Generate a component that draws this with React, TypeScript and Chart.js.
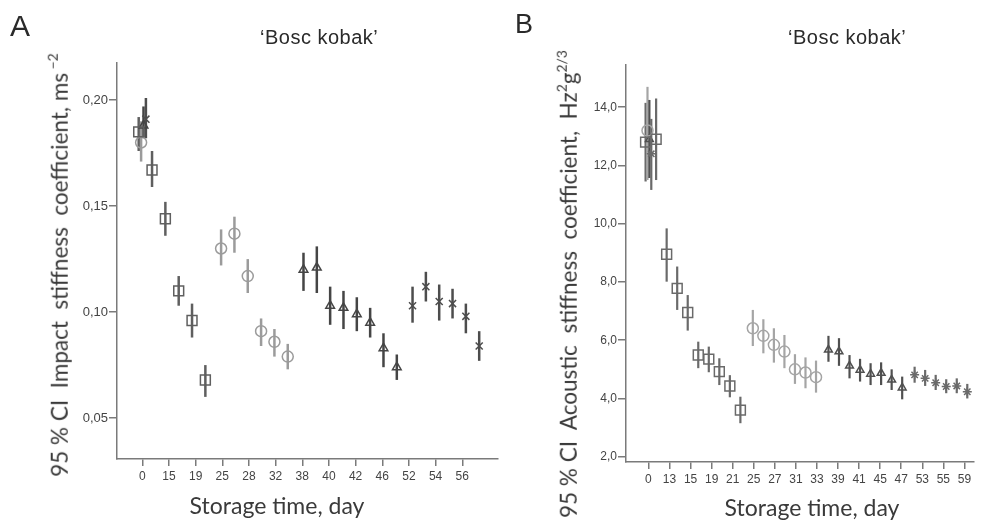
import React, { useEffect, useRef } from 'react';
import { Chart, registerables } from 'chart.js';

Chart.register(...registerables);

// ---------------- Panel A: Impact stiffness coefficient ----------------
const aXTickIndex = [0, 2, 4, 6, 8, 10, 12, 14, 16, 18, 20, 22, 24];
const aXTickLabels = ['0', '15', '19', '25', '28', '32', '38', '40', '42', '46', '52', '54', '56'];
const aYTicks = [0.05, 0.1, 0.15, 0.2];

const aSquareIdx = [0, 1, 2, 3, 4, 5];
const aSquareMean = [0.185, 0.167, 0.144, 0.11, 0.096, 0.068];
const aSquareLow = [0.176, 0.159, 0.136, 0.103, 0.088, 0.06];
const aSquareHigh = [0.192, 0.176, 0.152, 0.117, 0.104, 0.075];

const aCircleIdx = [0, 6, 7, 8, 9, 10, 11];
const aCircleMean = [0.18, 0.13, 0.137, 0.117, 0.091, 0.086, 0.079];
const aCircleLow = [0.171, 0.122, 0.128, 0.109, 0.084, 0.079, 0.073];
const aCircleHigh = [0.19, 0.139, 0.145, 0.125, 0.097, 0.092, 0.085];

const aTriIdx = [0, 12, 13, 14, 15, 16, 17, 18, 19];
const aTriMean = [0.188, 0.12, 0.121, 0.103, 0.102, 0.099, 0.095, 0.083, 0.074];
const aTriLow = [0.182, 0.11, 0.109, 0.094, 0.092, 0.091, 0.088, 0.074, 0.068];
const aTriHigh = [0.197, 0.128, 0.131, 0.112, 0.11, 0.107, 0.102, 0.09, 0.08];

const aCrossIdx = [0, 20, 21, 22, 23, 24, 25];
const aCrossMean = [0.191, 0.103, 0.112, 0.105, 0.104, 0.098, 0.084];
const aCrossLow = [0.182, 0.095, 0.105, 0.096, 0.097, 0.09, 0.077];
const aCrossHigh = [0.201, 0.112, 0.119, 0.113, 0.111, 0.104, 0.091];

// ---------------- Panel B: Acoustic stiffness coefficient ----------------
const bXTickIndex = [0, 2, 4, 6, 8, 10, 12, 14, 16, 18, 20, 22, 24, 26, 28, 30];
const bXTickLabels = ['0', '13', '15', '19', '21', '25', '27', '31', '33', '39', '41', '45', '47', '53', '55', '59'];
const bYTicks = [2, 4, 6, 8, 10, 12, 14];

const bSquareIdx = [0, 1, 2, 3, 4, 5, 6, 7, 8, 9];
const bSquareMean = [12.8, 12.9, 8.95, 7.78, 6.95, 5.49, 5.35, 4.92, 4.43, 3.6];
const bSquareLow = [11.45, 11.5, 8.01, 7.04, 6.33, 5.04, 4.9, 4.46, 4.04, 3.15];
const bSquareHigh = [14.15, 14.3, 9.84, 8.53, 7.55, 5.95, 5.78, 5.38, 4.8, 4.06];

const bCircleIdx = [0, 10, 11, 12, 13, 14, 15, 16];
const bCircleMean = [13.2, 6.41, 6.15, 5.84, 5.61, 5.0, 4.89, 4.73];
const bCircleLow = [11.5, 5.8, 5.55, 5.23, 5.04, 4.5, 4.35, 4.2];
const bCircleHigh = [14.7, 7.04, 6.72, 6.41, 6.18, 5.52, 5.41, 5.3];

const bTriIdx = [0, 17, 18, 19, 20, 21, 22, 23, 24];
const bTriMean = [12.9, 5.67, 5.61, 5.12, 4.98, 4.84, 4.87, 4.64, 4.37];
const bTriLow = [11.57, 5.26, 5.12, 4.69, 4.58, 4.46, 4.46, 4.29, 3.97];
const bTriHigh = [14.25, 6.15, 6.07, 5.49, 5.36, 5.21, 5.24, 5.0, 4.75];

const bStarIdx = [0, 25, 26, 27, 28, 29, 30];
const bStarMean = [12.4, 4.81, 4.69, 4.54, 4.41, 4.43, 4.23];
const bStarLow = [11.16, 4.54, 4.43, 4.29, 4.18, 4.18, 4.0];
const bStarHigh = [13.6, 5.09, 4.98, 4.81, 4.66, 4.69, 4.5];

// cluster offsets of the four storage groups inside one category slot
const groupOffset = [-0.27, -0.09, 0.09, 0.27];
const axisColor = '#7a7a7a';

type Series = {
  idx: number[]; mean: number[]; low: number[]; high: number[];
  group: number; style: string; color: string; radius: number; errWidth: number;
};

function toDataset(s: Series) {
  return {
    type: 'scatter',
    data: s.idx.map((i, k) => ({ x: i + groupOffset[s.group], y: s.mean[k], yMin: s.low[k], yMax: s.high[k] })),
    pointStyle: s.style,
    pointRadius: s.radius,
    pointHoverRadius: s.radius,
    borderColor: s.color,
    pointBorderColor: s.color,
    backgroundColor: 'rgba(0,0,0,0)',
    pointBackgroundColor: 'rgba(0,0,0,0)',
    pointBorderWidth: 1.5,
    showLine: false,
    errColor: s.color,
    errWidth: s.errWidth,
  };
}

const errorBarPlugin = {
  id: 'errorBars',
  beforeDatasetsDraw(chart: any) {
    const { ctx, scales } = chart;
    const xs = scales.x;
    const ys = scales.y;
    ctx.save();
    chart.data.datasets.forEach((ds: any) => {
      ctx.strokeStyle = ds.errColor;
      ctx.lineWidth = ds.errWidth;
      ds.data.forEach((p: any) => {
        const px = xs.getPixelForValue(p.x);
        ctx.beginPath();
        ctx.moveTo(px, ys.getPixelForValue(p.yMin));
        ctx.lineTo(px, ys.getPixelForValue(p.yMax));
        ctx.stroke();
      });
    });
    ctx.restore();
  },
};

type PanelParams = {
  series: Series[];
  xMin: number; xMax: number; yMin: number; yMax: number;
  xTickIndex: number[]; xTickLabels: string[];
  yTicks: number[]; yDecimals: number; yFontSize: number;
  padTop: number; padRight: number; yAxisWidth: number; xAxisHeight: number;
};

function makeConfig(p: PanelParams): any {
  const fam = '"Liberation Sans", Arial, sans-serif';
  return {
    type: 'scatter',
    data: { datasets: p.series.map(toDataset) },
    options: {
      responsive: false,
      animation: false,
      events: [],
      layout: { padding: { left: 0, right: p.padRight, top: p.padTop, bottom: 0 } },
      plugins: { legend: { display: false }, tooltip: { enabled: false }, title: { display: false } },
      scales: {
        x: {
          type: 'linear',
          min: p.xMin,
          max: p.xMax,
          afterBuildTicks: (s: any) => { s.ticks = p.xTickIndex.map((v) => ({ value: v })); },
          afterFit: (s: any) => { s.height = p.xAxisHeight; },
          ticks: {
            autoSkip: false, maxRotation: 0, minRotation: 0, padding: 3,
            color: '#444', font: { family: fam, size: 12 },
            callback: (_v: any, i: number) => p.xTickLabels[i],
          },
          grid: { drawOnChartArea: false, drawTicks: true, tickLength: 7, color: axisColor, lineWidth: 1.5 },
          border: { display: true, color: axisColor, width: 1.5 },
        },
        y: {
          type: 'linear',
          min: p.yMin,
          max: p.yMax,
          afterBuildTicks: (s: any) => { s.ticks = p.yTicks.map((v) => ({ value: v })); },
          afterFit: (s: any) => { s.width = p.yAxisWidth; },
          ticks: {
            padding: 1, color: '#444', font: { family: fam, size: p.yFontSize },
            callback: (v: any) => Number(v).toFixed(p.yDecimals).replace('.', ','),
          },
          grid: { drawOnChartArea: false, drawTicks: true, tickLength: 8, color: axisColor, lineWidth: 1.5 },
          border: { display: true, color: axisColor, width: 1.5 },
        },
      },
    },
    plugins: [errorBarPlugin],
  };
}

const panelA: PanelParams = {
  series: [
    { idx: aSquareIdx, mean: aSquareMean, low: aSquareLow, high: aSquareHigh, group: 0, style: 'rect', color: '#5f5f5f', radius: 7, errWidth: 2.5 },
    { idx: aCircleIdx, mean: aCircleMean, low: aCircleLow, high: aCircleHigh, group: 1, style: 'circle', color: '#9b9b9b', radius: 5.5, errWidth: 2.5 },
    { idx: aTriIdx, mean: aTriMean, low: aTriLow, high: aTriHigh, group: 2, style: 'triangle', color: '#454545', radius: 5, errWidth: 2.5 },
    { idx: aCrossIdx, mean: aCrossMean, low: aCrossLow, high: aCrossHigh, group: 3, style: 'crossRot', color: '#4d4d4d', radius: 5, errWidth: 2.5 },
  ],
  xMin: -1.898, xMax: 26.68, yMin: 0.0307, yMax: 0.2175,
  xTickIndex: aXTickIndex, xTickLabels: aXTickLabels,
  yTicks: aYTicks, yDecimals: 2, yFontSize: 13,
  padTop: 63, padRight: 12, yAxisWidth: 117, xAxisHeight: 72,
};

const panelB: PanelParams = {
  series: [
    { idx: bSquareIdx, mean: bSquareMean, low: bSquareLow, high: bSquareHigh, group: 0, style: 'rect', color: '#6a6a6a', radius: 7, errWidth: 2.2 },
    { idx: bCircleIdx, mean: bCircleMean, low: bCircleLow, high: bCircleHigh, group: 1, style: 'circle', color: '#a5a5a5', radius: 5.5, errWidth: 2.2 },
    { idx: bTriIdx, mean: bTriMean, low: bTriLow, high: bTriHigh, group: 2, style: 'triangle', color: '#505050', radius: 4.5, errWidth: 2.2 },
    { idx: bStarIdx, mean: bStarMean, low: bStarLow, high: bStarHigh, group: 3, style: 'star', color: '#6a6a6a', radius: 4.5, errWidth: 2.2 },
  ],
  xMin: -2.13, xMax: 30.86, yMin: 1.818, yMax: 15.45,
  xTickIndex: bXTickIndex, xTickLabels: bXTickLabels,
  yTicks: bYTicks, yDecimals: 1, yFontSize: 12,
  padTop: 65, padRight: 0, yAxisWidth: 116, xAxisHeight: 69,
};

function ChartCanvas({ left, width, height, params }: { left: number; width: number; height: number; params: PanelParams }) {
  const ref = useRef<HTMLCanvasElement>(null);
  useEffect(() => {
    const chart = new Chart(ref.current as HTMLCanvasElement, makeConfig(params));
    return () => chart.destroy();
  }, []);
  return (
    <canvas
      ref={ref}
      width={width}
      height={height}
      style={{ position: 'absolute', left, top: 0, width, height, display: 'block' }}
    />
  );
}

const sansText: React.CSSProperties = {
  position: 'absolute',
  fontFamily: '"Liberation Sans", Arial, sans-serif',
  lineHeight: 1,
  whiteSpace: 'nowrap',
  color: '#2a2a2a',
};

const humanistText: React.CSSProperties = {
  position: 'absolute',
  fontFamily: 'Lato, "Noto Sans", sans-serif',
  lineHeight: 1,
  whiteSpace: 'pre',
  color: '#3a3a3a',
};

const supStyle: React.CSSProperties = { fontSize: '0.62em', verticalAlign: '0.7em', lineHeight: 0 };

export default function App() {
  return (
    <div style={{ position: 'absolute', left: 0, top: 0, width: 982, height: 531, background: '#fff', overflow: 'hidden' }}>
      <ChartCanvas left={0} width={510} height={531} params={panelA} />
      <ChartCanvas left={510} width={472} height={531} params={panelB} />

      <div style={{ ...sansText, left: 10, top: 11, fontSize: 30 }}>A</div>
      <div style={{ ...sansText, left: 515, top: 11, fontSize: 27 }}>B</div>

      <div style={{ ...sansText, left: 260, top: 27, fontSize: 20, letterSpacing: 0.5 }}>{'\u2018Bosc kobak\u2019'}</div>
      <div style={{ ...sansText, left: 788, top: 27, fontSize: 20, letterSpacing: 0.5 }}>{'\u2018Bosc kobak\u2019'}</div>

      <div style={{ ...humanistText, left: 60, top: 265, fontSize: 22.5, transform: 'translate(-50%, -50%) rotate(-90deg)' }}>
        {'95 % CI  Impact  stiffness  coefficient, ms'}<span style={supStyle}>{' \u22122'}</span>
      </div>
      <div style={{ ...humanistText, left: 569, top: 284, fontSize: 22.5, transform: 'translate(-50%, -50%) rotate(-90deg)' }}>
        {'95 % CI  Acoustic  stiffness  coefficient,  Hz'}<span style={supStyle}>2</span>{'g'}<span style={supStyle}>2/3</span>
      </div>

      <div style={{ ...humanistText, left: 277, top: 494, fontSize: 23, transform: 'translateX(-50%)' }}>Storage time, day</div>
      <div style={{ ...humanistText, left: 812, top: 496, fontSize: 23, transform: 'translateX(-50%)' }}>Storage time, day</div>
    </div>
  );
}
